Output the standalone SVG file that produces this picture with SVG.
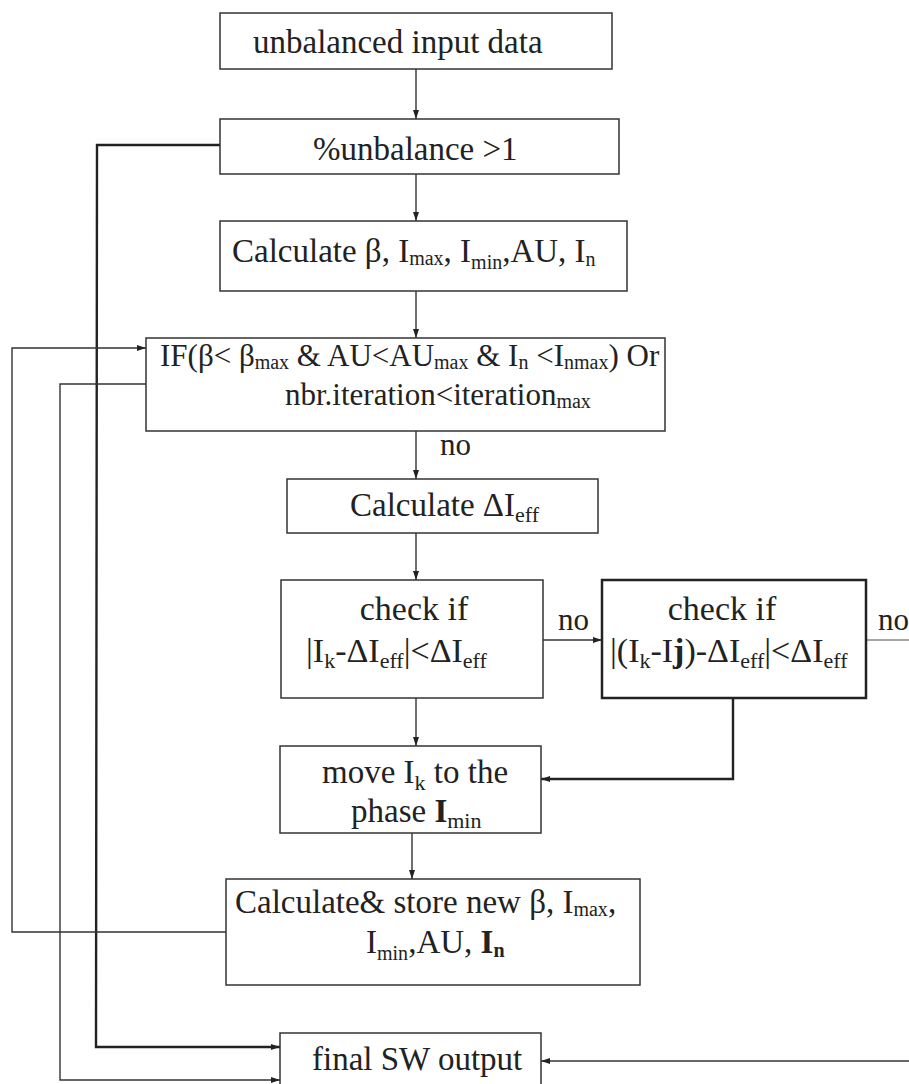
<svg xmlns="http://www.w3.org/2000/svg" width="909" height="1084" viewBox="0 0 909 1084">
<style>
.box{fill:#fff;stroke:#333;stroke-width:1.5}
.thick{stroke-width:2.5;stroke:#222}
.t{font-family:"Liberation Serif","Times New Roman",serif;font-size:33px;fill:#222}
.m{font-size:31px}
.w{font-size:34px}
.s{font-size:20px}
.s2{font-size:22px}
.b{font-weight:bold}
.c{fill:none;stroke:#333;stroke-width:1.4}
.ct{fill:none;stroke:#222;stroke-width:2.4}
.cl{fill:none;stroke:#888;stroke-width:1.4}
</style>
<defs>
<marker id="ah" markerWidth="9" markerHeight="6" refX="9" refY="3" orient="auto" markerUnits="userSpaceOnUse">
<path d="M0,0 L9,3 L0,6 z" fill="#222"/>
</marker>
</defs>
<rect width="909" height="1084" fill="#fff"/>

<g id="connectors">
<line class="c" x1="416" y1="69" x2="416" y2="119" marker-end="url(#ah)"/>
<line class="c" x1="416" y1="174" x2="416" y2="221" marker-end="url(#ah)"/>
<line class="c" x1="416" y1="291" x2="416" y2="338" marker-end="url(#ah)"/>
<line class="c" x1="416" y1="431" x2="416" y2="479" marker-end="url(#ah)"/>
<line class="c" x1="416" y1="533" x2="416" y2="580" marker-end="url(#ah)"/>
<line class="c" x1="416" y1="698" x2="416" y2="746" marker-end="url(#ah)"/>
<line class="c" x1="412" y1="833" x2="412" y2="879" marker-end="url(#ah)"/>
<line class="c" x1="543" y1="640" x2="602" y2="640" marker-end="url(#ah)"/>
<line class="cl" x1="866" y1="640" x2="909" y2="640"/>
<polyline class="ct" points="733,698 733,779 541,779" marker-end="url(#ah)"/>
<line class="c" x1="909" y1="1061" x2="541" y2="1061" marker-end="url(#ah)"/>
<polyline class="ct" points="220,145 97,145 96,1047 280,1047" marker-end="url(#ah)"/>
<polyline class="c" points="226,932 12,932 12,348 146,348" marker-end="url(#ah)"/>
<polyline class="c" points="146,384 60,384 60,1080 280,1080" marker-end="url(#ah)"/>
</g>

<g id="n1">
<rect class="box" x="220" y="13" width="392" height="56"/>
<text class="t" x="253" y="53">unbalanced input data</text>
</g>
<g id="n2">
<rect class="box" x="220" y="119" width="399" height="55"/>
<text class="t" x="313" y="160">%unbalance &gt;1</text>
</g>
<g id="n3">
<rect class="box" x="220" y="221" width="407" height="70"/>
<text class="t" x="232" y="262">Calculate β, I<tspan class="s" dy="3">max</tspan><tspan dy="-3">, I</tspan><tspan class="s" dy="7">min</tspan><tspan dy="-7">,AU, I</tspan><tspan class="s" dy="4">n</tspan></text>
</g>
<g id="n4">
<rect class="box" x="146" y="338" width="519" height="93"/>
<text class="t m" x="160" y="366">IF(β&lt; β<tspan class="s" dy="3">max</tspan><tspan dy="-3"> &amp; AU&lt;AU</tspan><tspan class="s" dy="3">max</tspan><tspan dy="-3"> &amp; I</tspan><tspan class="s" dy="3">n</tspan><tspan dy="-3"> &lt;I</tspan><tspan class="s" dy="3">nmax</tspan><tspan dy="-3">) Or</tspan></text>
<text class="t m" x="285" y="405">nbr.iteration&lt;iteration<tspan class="s" dy="3">max</tspan></text>
</g>
<text class="t m" x="440" y="455">no</text>
<g id="n5">
<rect class="box" x="287" y="479" width="311" height="54"/>
<text class="t" x="350" y="516">Calculate ΔI<tspan class="s2" dy="6">eff</tspan></text>
</g>
<g id="n6">
<rect class="box" x="281" y="580" width="262" height="118"/>
<text class="t w" x="414" y="620" text-anchor="middle">check if</text>
<text class="t w" x="306" y="662">|I<tspan class="s2" dy="6">k</tspan><tspan dy="-6">-ΔI</tspan><tspan class="s2" dy="6">eff</tspan><tspan dy="-6">|&lt;ΔI</tspan><tspan class="s2" dy="6">eff</tspan></text>
</g>
<text class="t m" x="558" y="630">no</text>
<g id="n7">
<rect class="box thick" x="602" y="580" width="264" height="118"/>
<text class="t w" x="722" y="620" text-anchor="middle">check if</text>
<text class="t w" x="610" y="662">|(I<tspan class="s2" dy="6">k</tspan><tspan dy="-6">-I</tspan><tspan class="b">j</tspan>)-ΔI<tspan class="s2" dy="6">eff</tspan><tspan dy="-6">|&lt;ΔI</tspan><tspan class="s2" dy="6">eff</tspan></text>
</g>
<text class="t m" x="878" y="630">no</text>
<g id="n8">
<rect class="box" x="280" y="746" width="261" height="87"/>
<text class="t" x="322" y="783">move I<tspan class="s2" dy="7">k</tspan><tspan dy="-7"> to the</tspan></text>
<text class="t" x="351" y="822">phase <tspan class="b">I</tspan><tspan class="s2" dy="6">min</tspan></text>
</g>
<g id="n9">
<rect class="box" x="226" y="879" width="414" height="106"/>
<text class="t" x="235" y="913">Calculate&amp; store new β, I<tspan class="s" dy="3">max</tspan><tspan dy="-3">,</tspan></text>
<text class="t" x="366" y="953">I<tspan class="s" dy="7">min</tspan><tspan dy="-7">,AU, </tspan><tspan class="b">I</tspan><tspan class="s b" dy="4">n</tspan></text>
</g>
<g id="n10">
<rect class="box" x="280" y="1033" width="261" height="60"/>
<text class="t" x="312" y="1070">final SW output</text>
</g>
</svg>
